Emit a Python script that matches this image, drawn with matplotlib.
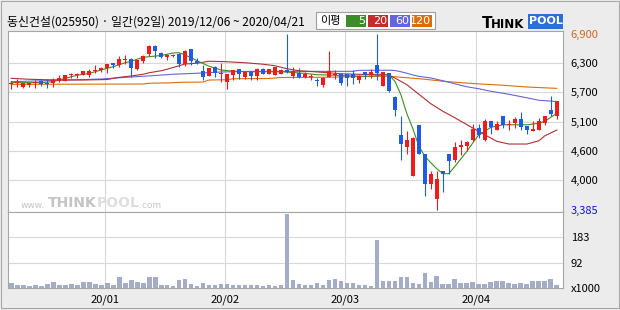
import numpy as np
import matplotlib
matplotlib.use("Agg")
import matplotlib.pyplot as plt
from matplotlib.patches import Rectangle

plt.rcParams['font.family'] = ['Noto Sans CJK KR', 'DejaVu Sans']

title = "동신건설(025950) · 일간(92일) 2019/12/06 ~ 2020/04/21"

# daily candles, 2019/12/06 .. 2020/04/21 (92 trading days)
opens = [5890, 5910, 5830, 5880, 5915, 5948, 5920, 5920, 5960, 5960,
         6070, 6080, 6080, 6080, 6148, 6180, 6220, 6308, 6275, 6380,
         6395, 6188, 6360, 6485, 6655, 6510, 6428, 6448, 6495, 6292,
         6594, 6361, 6160, 6061, 6235, 6100, 5945, 6082, 6195, 6035,
         6142, 6062, 6202, 6102, 6082, 6102, 6175, 6062, 6115, 6035,
         6035, 5982, 5882, 6042, 6082, 6102, 6095, 6095, 5982, 6135,
         6082, 6275, 5862, 6115, 5635, 4870, 4630, 4064, 5069, 4497,
         3904, 3604, 4150, 4497, 4383, 4643, 4663, 4776, 5016, 4783,
         5149, 4983, 5249, 5083, 5116, 5196, 5063, 4950, 4983, 5116,
         5376, 5249]
highs = [5960, 5990, 5910, 5915, 5975, 5975, 5990, 6010, 6075, 6080,
         6120, 6120, 6150, 6190, 6275, 6240, 6300, 6308, 6460, 6475,
         6410, 6380, 6475, 6680, 6680, 6535, 6498, 6500, 6512, 6572,
         6600, 6405, 6270, 6222, 6250, 6308, 6100, 6182, 6195, 6162,
         6162, 6215, 6210, 6200, 6235, 6190, 6900, 6228, 6215, 6128,
         6095, 6015, 6035, 6561, 6182, 6105, 6098, 6175, 6082, 6138,
         6195, 6890, 6140, 6118, 5649, 5249, 4949, 4830, 5075, 4500,
         4150, 4150, 4155, 4500, 4736, 4783, 4763, 5096, 5096, 5196,
         5152, 5149, 5252, 5183, 5236, 5336, 5066, 5149, 5216, 5252,
         5649, 5565]
lows = [5800, 5840, 5820, 5840, 5820, 5860, 5820, 5840, 5940, 5955,
        6015, 6015, 6075, 6040, 6120, 6140, 6110, 6208, 6240, 6295,
        6040, 6180, 6320, 6455, 6420, 6405, 6365, 6428, 6228, 6262,
        6278, 6292, 5980, 6055, 6030, 5945, 5800, 5982, 6002, 5995,
        5982, 5982, 6095, 6095, 6075, 6095, 6115, 6015, 6015, 6015,
        5982, 5862, 5835, 6035, 5995, 5882, 5862, 5902, 5922, 6002,
        6015, 5982, 5855, 5735, 5262, 4383, 4503, 4060, 4495, 3651,
        3804, 3385, 3731, 4104, 4330, 4483, 4550, 4750, 4816, 4763,
        4896, 4970, 5016, 4970, 5016, 4983, 4896, 4948, 4970, 5083,
        5262, 5203]
closes = [5910, 5940, 5910, 5915, 5935, 5900, 5900, 5970, 6015, 6075,
          6100, 6100, 6148, 6148, 6180, 6215, 6300, 6280, 6395, 6395,
          6220, 6375, 6455, 6655, 6560, 6428, 6478, 6481, 6288, 6555,
          6345, 6321, 6042, 6218, 6112, 6110, 6100, 6175, 6102, 6128,
          6062, 6202, 6102, 6195, 6228, 6182, 6128, 6162, 6035, 6102,
          6062, 5948, 6015, 6148, 6102, 5915, 6015, 6015, 6048, 6082,
          6135, 6115, 6135, 5762, 5382, 4703, 4770, 4816, 4503, 3904,
          4104, 3997, 4104, 4350, 4636, 4683, 4736, 4996, 4870, 5149,
          5036, 5103, 5083, 5103, 5196, 5029, 4983, 4996, 5149, 5249,
          5303, 5562]
volumes = [17, 10, 10, 7, 10, 7, 13, 21, 11, 11,
           13, 11, 21, 21, 13, 11, 17, 11, 39, 18,
           28, 21, 18, 39, 39, 10, 10, 7, 28, 32,
           13, 7, 17, 11, 11, 13, 13, 11, 10, 11,
           10, 10, 7, 10, 7, 10, 268, 28, 13, 11,
           10, 17, 10, 28, 32, 25, 18, 18, 10, 10,
           7, 173, 24, 24, 24, 39, 39, 17, 15, 53,
           21, 42, 13, 13, 32, 18, 18, 21, 13, 13,
           21, 27, 24, 17, 13, 17, 13, 27, 27, 27,
           32, 10]

# moving averages (day index, price)
ma5_x = [0, 5, 7, 9, 11, 13, 14, 16, 17, 19, 20, 22, 25, 27, 28, 29, 30, 31, 33, 35,
         37, 40, 45, 49, 51, 53, 56, 59, 61, 62, 63, 64, 65, 66, 67, 68, 69, 70, 71, 72,
         73, 74, 75, 76, 77, 78, 80, 82, 86, 88, 89, 90, 91]
ma5_y = [5922, 5922, 5942, 6010, 6070, 6108, 6141, 6208, 6241, 6320, 6350, 6428, 6465, 6515, 6521, 6474, 6420, 6360, 6250, 6175,
         6150, 6140, 6140, 6108, 6080, 6075, 6060, 6050, 6060, 6080, 6080, 5948, 5680, 5300, 5000, 4650, 4450, 4320, 4200, 4104,
         4104, 4250, 4400, 4550, 4720, 4880, 5030, 5080, 5080, 5110, 5150, 5230, 5310]
ma20_x = [0, 3, 6, 12, 16, 18, 20, 22, 23, 25, 26, 27, 28, 29, 31, 33, 36, 39, 42, 44,
          46, 48, 52, 55, 59, 62, 63, 64, 66, 68, 70, 72, 74, 76, 79, 81, 83, 86, 88, 89, 91]
ma20_y = [6008, 5990, 5980, 5975, 5985, 6028, 6055, 6090, 6120, 6160, 6190, 6225, 6260, 6295, 6310, 6350, 6340, 6320, 6290, 6260,
          6200, 6160, 6128, 6100, 6085, 6090, 6070, 6015, 5880, 5690, 5500, 5350, 5220, 5083, 4880, 4750, 4696, 4696, 4760, 4860, 4975]
ma60_x = [0, 10, 15, 19, 22, 24, 27, 31, 35, 40, 57, 58, 63, 64, 65, 66, 67, 68, 70, 72,
          74, 76, 78, 80, 83, 86, 88, 91]
ma60_y = [5942, 5975, 5995, 6028, 6050, 6065, 6090, 6110, 6135, 6148, 6148, 6168, 6170, 6165, 6140, 6110, 6075, 6048, 6015, 5960,
          5900, 5840, 5800, 5750, 5690, 5620, 5570, 5545]
ma120_x = [0, 22, 23, 27, 28, 32, 33, 36, 37, 43, 45, 53, 56, 63, 66, 69, 72, 77, 82, 86, 91]
ma120_y = [5888, 5895, 5910, 5920, 5928, 5935, 5975, 5980, 6000, 6005, 6025, 6030, 6040, 6050, 6020, 5990, 5950, 5905, 5870, 5835, 5808]

month_starts = [16, 36, 56, 78]
month_labels = ["20/01", "20/02", "20/03", "20/04"]

price_ticks = [3385, 3971, 4557, 5142, 5728, 6314, 6900]
price_labels = ["3,385", "4,000", "4,600", "5,100", "5,700", "6,300", "6,900"]
vol_ticks = [0, 92, 183]
vol_labels = ["x1000", "92", "183"]

legend_names = ["5", "20", "60", "120"]
legend_colors = ["#3c8c28", "#c62a2a", "#6464dc", "#dc6e0a"]

W, H = 620, 310
def fx(px):
    return px / W
def fy(py):
    return 1 - py / H

fig = plt.figure(figsize=(6.2, 3.1), dpi=100)
fig.patch.set_facecolor("#ececec")

L, R = 7.5, 562.5
ax = fig.add_axes([fx(L), fy(212), fx(R) - fx(L), fy(31) - fy(212)])
axv = fig.add_axes([fx(L), fy(288), fx(R) - fx(L), fy(212) - fy(288)], sharex=ax)

grid_c = "#d8d8d8"
spine_c = "#a6a6a6"
x = np.arange(len(closes))

for a in (ax, axv):
    a.set_facecolor("white")
    for s in a.spines.values():
        s.set_color(spine_c)
        s.set_linewidth(0.8)
    for m in month_starts:
        a.axvline(m - 0.4, color=grid_c, lw=0.8, zorder=0)

for t in price_ticks[1:-1]:
    ax.axhline(t, color=grid_c, lw=0.8, zorder=0)
for t in vol_ticks[1:]:
    axv.axhline(t, color=grid_c, lw=0.8, zorder=0)

# watermark
wy = (212 - 210) / 181
def axfx(px):
    return (px - L) / (R - L)
wm = "#c4c4c4"
ax.text(axfx(21), wy, "www.", transform=ax.transAxes, fontsize=6.5, color=wm,
        family="DejaVu Sans", va="bottom", zorder=1)
ax.text(axfx(48), wy, "THINK", transform=ax.transAxes, fontsize=10, color=wm,
        family="DejaVu Sans", weight="bold", va="bottom", zorder=1)
ax.text(axfx(97), wy, "POOL", transform=ax.transAxes, fontsize=10, color="#dedede",
        family="DejaVu Sans", weight="bold", va="bottom", zorder=1)
ax.text(axfx(139), wy, ".com", transform=ax.transAxes, fontsize=6.5, color=wm,
        family="DejaVu Sans", va="bottom", zorder=1)

# moving averages
ax.plot(ma120_x, ma120_y, color=legend_colors[3], lw=0.8, zorder=2)
ax.plot(ma60_x, ma60_y, color=legend_colors[2], lw=0.8, zorder=2)
ax.plot(ma20_x, ma20_y, color="#b03030", lw=0.8, zorder=2)
ax.plot(ma5_x, ma5_y, color="#3a8f1e", lw=0.8, zorder=2)

# candles
o = np.array(opens); c = np.array(closes)
up = c >= o
cols = np.where(up, "#f01c1c", "#1f5ce6")
ax.vlines(x, lows, highs, colors=cols, lw=0.8, zorder=3)
body_lo = np.minimum(o, c)
body_h = np.maximum(np.abs(c - o), 20)
ax.bar(x, body_h, bottom=body_lo, width=0.75, color=cols, zorder=4, linewidth=0)

ax.set_ylim(3338, 6954)
ax.set_xlim(-0.62, 91.95)
ax.yaxis.tick_right()
ax.set_yticks(price_ticks, price_labels)
ax.tick_params(axis="y", length=0, pad=6, labelsize=8)
ax.tick_params(axis="x", length=0, labelbottom=False)
for lab, t in zip(ax.get_yticklabels(), price_ticks):
    if t == 6900:
        lab.set_color("#d2691e")
    elif t == 3385:
        lab.set_color("#1010d0")

axv.bar(x, volumes, width=0.8, color="#a4adc5", linewidth=0, zorder=3)
axv.set_ylim(0, 275)
axv.yaxis.tick_right()
axv.set_yticks(vol_ticks, vol_labels)
axv.tick_params(axis="y", length=0, pad=6, labelsize=8)
axv.set_xticks([m - 0.4 for m in month_starts], month_labels)
axv.tick_params(axis="x", length=0, pad=5, labelsize=8)

# header
fig.text(fx(7), fy(22), title, fontsize=8.6, va="center", ha="left")

fig.patches.append(Rectangle((fx(316), fy(29)), fx(435) - fx(316), fy(12) - fy(29),
                             transform=fig.transFigure, facecolor="white",
                             edgecolor="#a0a0a0", lw=0.8))
fig.text(fx(320), fy(21), "이평", fontsize=8, va="center", ha="left")
for k, (name, col) in enumerate(zip(legend_names, legend_colors)):
    x0 = 346 + 22 * k
    fig.patches.append(Rectangle((fx(x0), fy(27)), fx(20), fy(15.5) - fy(27),
                                 transform=fig.transFigure, facecolor=col, lw=0))
    fig.text(fx(x0 + 19), fy(21.5), name, fontsize=8, color="white", va="center", ha="right",
             family="DejaVu Sans")

# logo
fig.text(fx(482), fy(28), "T", fontsize=11, weight="bold", family="DejaVu Sans", va="baseline")
fig.text(fx(491), fy(28), "HINK", fontsize=8.5, weight="bold", family="DejaVu Sans", va="baseline")
fig.patches.append(Rectangle((fx(528), fy(28.5)), fx(35), fy(14) - fy(28.5),
                             transform=fig.transFigure, facecolor="#2d6ed8", lw=0))
fig.text(fx(545.5), fy(21.5), "POOL", fontsize=8, weight="bold", color="white",
         family="DejaVu Sans", va="center", ha="center")

fig.patches.append(Rectangle((fx(1), fy(308)), fx(618), fy(1) - fy(308),
                             transform=fig.transFigure, fill=False,
                             edgecolor="#a8a8a8", lw=0.8))

fig.savefig("out.png", dpi=100, facecolor=fig.get_facecolor())
